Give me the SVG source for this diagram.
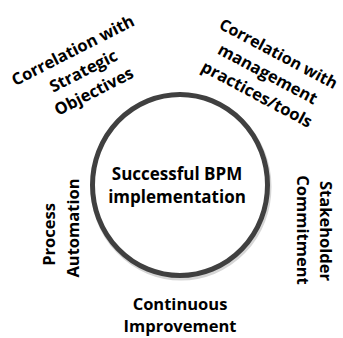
<svg xmlns="http://www.w3.org/2000/svg" width="343" height="338" viewBox="0 0 343 338">
<style>
text{font-family:"Open Sans","Liberation Sans",sans-serif;font-weight:700;fill:#000;text-anchor:middle;font-size:16.5px}
.ctr{font-size:17px}
</style>
<rect width="343" height="338" fill="#fff"/>
<g id="hub">
<ellipse cx="181" cy="187" rx="87.5" ry="90.5" fill="none" stroke="#d6d6d6" stroke-width="6"/>
<ellipse cx="180" cy="185" rx="87.5" ry="90.5" fill="#fff" stroke="#404040" stroke-width="5"/>
<text class="ctr" x="177" y="180">Successful BPM</text>
<text class="ctr" x="177" y="203">implementation</text>
</g>
<g id="strategic" transform="translate(86,76) rotate(-27)">
<text x="0" y="-23">Correlation with</text>
<text x="0" y="0">Strategic</text>
<text x="0" y="23">Objectives</text>
</g>
<g id="management" transform="translate(265,79) rotate(28)">
<text x="0" y="-23" style="font-size:16px">Correlation with</text>
<text x="0" y="0">management</text>
<text x="0" y="23">practices/tools</text>
</g>
<g id="automation">
<text transform="translate(55,234.5) rotate(-90)">Process</text>
<text transform="translate(79,228) rotate(-90)">Automation</text>
</g>
<g id="stakeholder">
<text transform="translate(320,231) rotate(90)">Stakeholder</text>
<text transform="translate(297,230) rotate(90)">Commitment</text>
</g>
<g id="improvement">
<text x="180" y="310">Continuous</text>
<text x="180" y="332">Improvement</text>
</g>
<g id="connectors"/>
</svg>
